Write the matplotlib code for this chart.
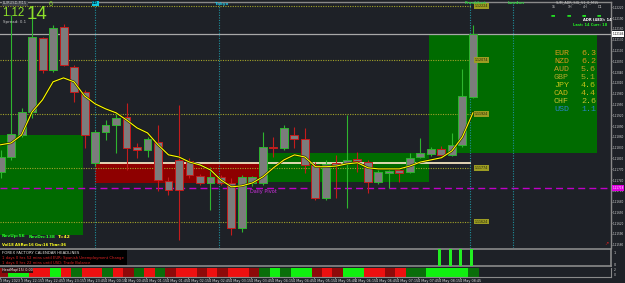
import matplotlib
matplotlib.use("Agg")
import matplotlib.pyplot as plt
from matplotlib.patches import Rectangle

# ---------------- data ----------------
opens = [1.11763, 1.11804, 1.11865, 1.11929, 1.12135, 1.12046, 1.12165, 1.12054, 1.11985, 1.11788,
         1.11874, 1.11893, 1.11915, 1.11832, 1.11824, 1.11846, 1.11738, 1.11796, 1.11793, 1.11752,
         1.11732, 1.11749, 1.11732, 1.11607, 1.11732, 1.11732, 1.11832, 1.11829, 1.11865, 1.11854,
         1.11782, 1.11690, 1.11788, 1.11788, 1.11799, 1.11790, 1.11735, 1.11760, 1.11768, 1.11763,
         1.11804, 1.11813, 1.11827, 1.11810, 1.11838, 1.11971]
highs = [1.11824, 1.12199, 1.11940, 1.12199, 1.12138, 1.12171, 1.12174, 1.12060, 1.11990, 1.11879,
         1.11907, 1.11929, 1.11954, 1.11843, 1.11860, 1.11893, 1.11749, 1.11949, 1.11802, 1.11757,
         1.11777, 1.11754, 1.11746, 1.11754, 1.11752, 1.11874, 1.11860, 1.11893, 1.11888, 1.11885,
         1.11790, 1.11796, 1.11810, 1.11921, 1.11818, 1.11796, 1.11768, 1.11768, 1.11774, 1.11815,
         1.11857, 1.11832, 1.11835, 1.11871, 1.12049, 1.12171]
lows = [1.11746, 1.11796, 1.11860, 1.11913, 1.12038, 1.12040, 1.12057, 1.11957, 1.11829, 1.11779,
        1.11852, 1.11815, 1.11768, 1.11802, 1.11804, 1.11710, 1.11699, 1.11574, 1.11746, 1.11727,
        1.11657, 1.11727, 1.11588, 1.11596, 1.11724, 1.11727, 1.11804, 1.11824, 1.11829, 1.11760,
        1.11685, 1.11685, 1.11690, 1.11663, 1.11763, 1.11704, 1.11729, 1.11718, 1.11735, 1.11760,
        1.11802, 1.11807, 1.11807, 1.11807, 1.11832, 1.11968]
closes = [1.11804, 1.11868, 1.11929, 1.12138, 1.12046, 1.12163, 1.12060, 1.11985, 1.11865, 1.11874,
          1.11893, 1.11913, 1.11829, 1.11824, 1.11854, 1.11740, 1.11713, 1.11713, 1.11754, 1.11732,
          1.11749, 1.11732, 1.11607, 1.11749, 1.11749, 1.11832, 1.11829, 1.11885, 1.11854, 1.11782,
          1.11690, 1.11785, 1.11782, 1.11796, 1.11793, 1.11735, 1.11763, 1.11765, 1.11760, 1.11802,
          1.11815, 1.11827, 1.11810, 1.11838, 1.11974, 1.12146]
ma_line = [1.11838, 1.11843, 1.11865, 1.11929, 1.11963, 1.12013, 1.12024, 1.12013, 1.11974, 1.11952,
           1.11938, 1.11927, 1.11907, 1.11885, 1.11871, 1.11838, 1.11810, 1.11804, 1.11790, 1.11782,
           1.11768, 1.11740, 1.11721, 1.11724, 1.11732, 1.11749, 1.11774, 1.11796, 1.11810, 1.11804,
           1.11777, 1.11777, 1.11779, 1.11785, 1.11788, 1.11774, 1.11771, 1.11771, 1.11771, 1.11779,
           1.11790, 1.11796, 1.11802, 1.11821, 1.11860, 1.11927]
heat = [-1, 2, 2, -2, -2, 2, -2, 1, -2, -2, 1, -2, -1, 1, -2, 1, -1, -2, -2, -1, -2, -1, -2,
        -2, -1, 1, 2, 1, 2, 2, -1, -2, -1, 2, 2, -2, -2, -1, -2, 1, 1, 2, 2, 2, 2, 1]
signal = [0] * 42 + [1, 1, 1, 1]

time_labels = ["3 May 2023", "3 May 22:15", "3 May 22:45", "3 May 23:15", "3 May 23:45",
               "4 May 00:15", "4 May 00:45", "4 May 01:15", "4 May 01:45", "4 May 02:15",
               "4 May 02:45", "4 May 03:15", "4 May 03:45", "4 May 04:15", "4 May 04:45",
               "4 May 05:15", "4 May 05:45", "4 May 06:15", "4 May 06:45", "4 May 07:15",
               "4 May 07:45", "4 May 08:15", "4 May 08:45"]
time_label_idx = list(range(0, 46, 2))

level_prices = [1.12224, 1.12074, 1.11924, 1.11774, 1.11624]
bid_price = 1.12146
pivot_price = 1.11718
sr_price = 1.11788

zone_x0 = [-0.05, 9.0, 25.2, 40.8]
zone_x1 = [7.86, 25.2, 40.8, 56.8]
zone_lo = [1.11588, 1.11732, 1.11735, 1.11815]
zone_hi = [1.11865, 1.11788, 1.11815, 1.12143]
sr_x0, sr_x1 = 9.0, 44.7

session_names = ["DD", "Tokyo", "Frankfurt", "London"]
session_idx = [9.0, 20.8, 44.7, 48.8]

currencies = ["EUR", "NZD", "AUD", "GBP", "JPY", "CAD", "CHF", "USD"]
strength = [6.3, 6.2, 5.6, 5.1, 4.6, 4.4, 2.6, 1.1]

# ---------------- styling / layout ----------------
W, H = 625, 283
BG = '#1e2127'
fig = plt.figure(figsize=(W / 100, H / 100), dpi=100)
fig.patch.set_facecolor(BG)


def px_axes(x0, y0, x1, y1):
    return fig.add_axes([x0 / W, 1 - y1 / H, (x1 - x0) / W, (y1 - y0) / H])


def ftext(x, y, s, **kw):
    kw.setdefault('va', 'center')
    kw.setdefault('ha', 'left')
    return fig.text(x / W, 1 - y / H, s, **kw)


AX_FS = 1.95
XL = (-0.05, 58.15)
ax = px_axes(0, 2, 611, 248)
ax.set_facecolor(BG)
ax.set_xlim(*XL)
ax.set_ylim(1.11551, 1.12235)
for s in ['left', 'bottom']:
    ax.spines[s].set_visible(False)
for s in ['top', 'right']:
    ax.spines[s].set_color('#8a8a8a')
    ax.spines[s].set_linewidth(1.0)
ax.set_xticks([])
ax.yaxis.tick_right()
yt = [1.11560 + 0.0003 * k for k in range(23)]
ax.set_yticks(yt)
ax.set_yticklabels([f"{v:.5f}" for v in yt], fontsize=AX_FS, color='#d8d8d8')
ax.tick_params(axis='y', length=1.0, width=0.5, color='#b0b0b0', pad=0.4)

# zones
zone_cols = ['#006b00', '#8e0000', '#006b00', '#006b00']
for x0, x1, lo, hi, c in zip(zone_x0, zone_x1, zone_lo, zone_hi, zone_cols):
    ax.add_patch(Rectangle((x0, lo), x1 - x0, hi - lo, facecolor=c, edgecolor='none', zorder=1))

# level lines + labels
for p in level_prices:
    ax.plot([XL[0], 44.8], [p, p], color='#a3a32a', lw=0.8, ls=(0, (1, 1.2)), zorder=2)
    ax.text(45.15, p, f"{p:.5f}", fontsize=2.3, color='#20200a', va='center', ha='left', zorder=6,
            bbox=dict(facecolor='#9c9c22', edgecolor='none', pad=0.5))

# bid & pivot
ax.axhline(bid_price, color='#a8a8a8', lw=0.9, zorder=2)
ax.axhline(pivot_price, color='#c000c8', lw=1.0, ls=(0, (5, 3)), zorder=2)
ax.text(23.8, pivot_price - 0.00003, 'Daily Pivot', fontsize=3.6, color='#d030e0', va='top', ha='left', zorder=6)
ax.plot([sr_x0, sr_x1], [sr_price, sr_price], color='#f2e2c0', lw=1.3, zorder=3)

# sessions
for name, xi in zip(session_names, session_idx):
    ax.axvline(xi, color='#1e8f9c', lw=0.8, ls=(0, (1, 1.3)), zorder=2)

# candles
for i, (o, h, l, c) in enumerate(zip(opens, highs, lows, closes)):
    col = '#2fb52f' if c >= o else '#c41c1c'
    ax.vlines(i, l, h, color=col, lw=0.8, zorder=4)
    lo_b = min(o, c)
    hgt = max(abs(c - o), 0.000015)
    ax.add_patch(Rectangle((i - 0.38, lo_b), 0.76, hgt, facecolor='#7c7c7c', edgecolor=col, lw=0.7, zorder=5))

# moving average
ax.plot(range(len(ma_line)), ma_line, color='#1a1a00', lw=1.6, zorder=6)
ax.plot(range(len(ma_line)), ma_line, color='#ffff00', lw=0.8, zorder=7)

# highlighted price labels on axis
ax.text(1.0025, bid_price, f"{bid_price:.5f}", transform=ax.get_yaxis_transform(), fontsize=AX_FS,
        color='black', va='center', ha='left', zorder=9, clip_on=False,
        bbox=dict(facecolor='white', edgecolor='none', pad=0.4))
ax.text(1.0025, pivot_price, f"{pivot_price:.5f}", transform=ax.get_yaxis_transform(), fontsize=AX_FS,
        color='white', va='center', ha='left', zorder=9, clip_on=False,
        bbox=dict(facecolor='#e000e0', edgecolor='none', pad=0.4))

# ---------------- panel 1 (signals + calendar) ----------------
ax1 = px_axes(0, 249, 611, 266)
ax1.set_facecolor(BG)
ax1.set_xlim(*XL)
ax1.set_ylim(0, 1.1)
for s in ['top', 'bottom', 'right']:
    ax1.spines[s].set_color('#8a8a8a')
    ax1.spines[s].set_linewidth(1.2)
ax1.spines['left'].set_visible(False)
ax1.set_xticks([])
ax1.yaxis.tick_right()
ax1.set_yticks([0.1, 0.88])
ax1.set_yticklabels(['0', '1'], fontsize=2.4, color='#d8d8d8')
ax1.tick_params(axis='y', length=0, pad=2)
for i, v in enumerate(signal):
    if v:
        ax1.bar(i - 0.15, v * 1.1, width=0.3, color='#22ee22', align='center', zorder=3)
ax1.add_patch(Rectangle((0, 0.03), 127 / 611, 0.94, transform=ax1.transAxes, facecolor='black',
                        edgecolor='none', zorder=4))
ftext(2, 253, "FOREX FACTORY CALENDAR HEADLINES", fontsize=2.8, color='#e8e8e8')
ftext(2, 258.3, "1 days 0 hrs 52 mins until EUR: Spanish Unemployment Change", fontsize=2.7, color='#e02424')
ftext(2, 263, "1 days 0 hrs 22 mins until USD: Trade Balance", fontsize=2.7, color='#e02424')

# ---------------- panel 2 (heat bars) ----------------
ax2 = px_axes(0, 267.5, 611, 276.5)
ax2.set_facecolor(BG)
ax2.set_xlim(*XL)
ax2.set_ylim(0, 1)
for s in ['top', 'left']:
    ax2.spines[s].set_visible(False)
for s in ['bottom', 'right']:
    ax2.spines[s].set_color('#8a8a8a')
    ax2.spines[s].set_linewidth(0.8)
heat_cols = {2: '#10f010', 1: '#0a6e0a', -1: '#8e0a0a', -2: '#ee1010'}
ax2.bar(range(len(heat)), [1] * len(heat), width=1.0, color=[heat_cols[v] for v in heat], zorder=2)
ax2.yaxis.tick_right()
ax2.set_yticks([0.2, 0.8])
ax2.set_yticklabels(['0', '2'], fontsize=2.2, color='#d8d8d8')
ax2.tick_params(axis='y', length=0, pad=2)
ax2.set_xticks([i - 0.3 for i in time_label_idx])
ax2.set_xticklabels(time_labels, fontsize=2.4, color='#e0e0e0', ha='left')
ax2.tick_params(axis='x', length=1.2, width=0.5, color='#b0b0b0', pad=0.3)
ftext(2, 270.5, "HeatMap(15) 0.00", fontsize=2.4, color='#f0f0f0',
      bbox=dict(facecolor='#3a1010', edgecolor='none', pad=0.3))

# ---------------- overlay texts ----------------
ftext(3, 3.2, "EURUSD,M15", fontsize=2.6, color='#d0d0d0',
      bbox=dict(facecolor='#3a3d44', edgecolor='none', pad=0.4))
ftext(2, 13.5, "1.12", fontsize=8.3, color='#8ee02a', family='Liberation Sans')
ftext(26.5, 14.5, "14", fontsize=13.5, color='#8ee02a', family='Liberation Sans')
ftext(48.5, 4.0, "6", fontsize=5.0, color='#8ee02a', family='Liberation Sans')
ftext(3, 21.5, "Spread: 0.1", fontsize=2.9, color='#c8c8c8')

for name, xi in zip(session_names, session_idx):
    xp = 0.5 + 10.5 * xi
    if name == 'DD':
        ftext(xp - 3, 3.5, name, fontsize=2.6, color='#003040', fontweight='bold',
              bbox=dict(facecolor='#10c8e0', edgecolor='none', pad=0.3))
    elif name == 'Tokyo':
        ftext(xp - 4, 3.5, name, fontsize=3.0, color='#20c8e8', fontweight='bold')
    else:
        ftext(xp - 5, 3.5, name, fontsize=3.0, color='#30d040', fontweight='bold')

ftext(556, 2.5, "SUM_ADR_SIG_V1_0_M15", fontsize=2.4, color='#c8c8c8')
for lab, xp in zip(["15", "1H", "4H", "D1"], [552, 568, 583, 598]):
    ftext(xp, 7.5, lab, fontsize=2.3, color='#c8c8c8')
    ftext(xp - 1, 14.5, "\u25ac", fontsize=3.4, color='#22dd22')
ftext(583, 19.5, "ADR (480): 14", fontsize=2.6, color='#ffffff', fontweight='bold')
ftext(573, 24.5, "Last: 14 Curr: 18", fontsize=2.6, color='#22ee22', fontweight='bold')

cur_cols = ['#d89a1c', '#d8961c', '#c89a2a', '#b0a82a', '#c0c418', '#c8b41c', '#c8c030', '#2a84c8']
for k, (cn, sv, cc) in enumerate(zip(currencies, strength, cur_cols)):
    yp = 53.5 + 8.0 * k
    ftext(554, yp, cn, fontsize=6.0, color=cc, family='Liberation Mono')
    ftext(581, yp, f"{sv:.1f}", fontsize=6.0, color=cc, family='Liberation Mono')

ftext(2, 236.5, "RevUp:56", fontsize=3.2, color='#22ff22', fontweight='bold')
ftext(29, 236.5, "RevDn:138", fontsize=3.2, color='#22ff22', fontweight='bold')
ftext(58, 236.5, "T=42", fontsize=3.2, color='#ffff22', fontweight='bold')
ftext(2, 245.5, "Vol18 ASRw:16 Gw:16 Tbar:36", fontsize=2.7, color='#ffff22', fontweight='bold')
ftext(604, 243.5, "\u2197", fontsize=3.6, color='#d02020')

fig.savefig("out.png", dpi=100, facecolor=BG)
